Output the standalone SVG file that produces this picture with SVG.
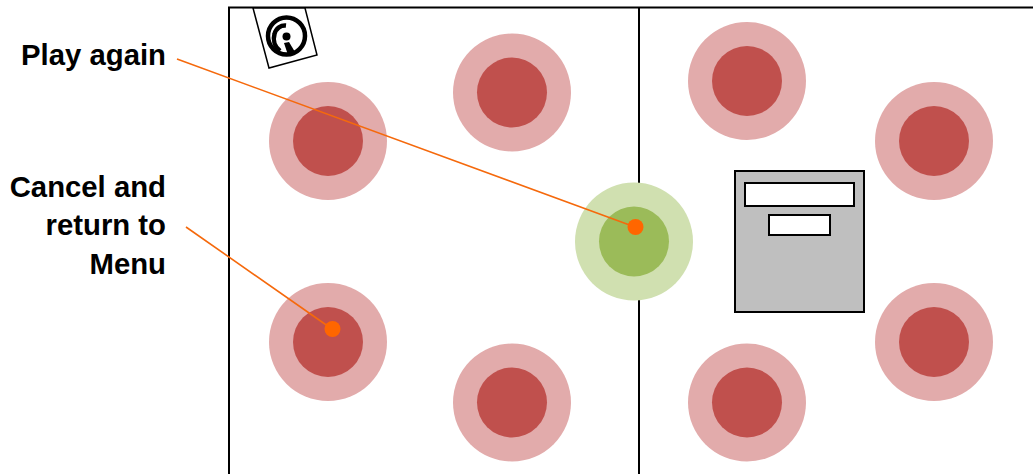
<svg xmlns="http://www.w3.org/2000/svg" width="1033" height="474" viewBox="0 0 1033 474">
<style>
.o{fill:#e2abab}.i{fill:#c0504d}
.go{fill:#d0e0b0}.gi{fill:#9bbb59}
.f{fill:none;stroke:#000;stroke-width:2}
.l{fill:none;stroke:#f5690c;stroke-width:1.6}
.d{fill:#ff6600}
text{font-family:"Liberation Sans",Arial,sans-serif;font-weight:700;font-size:29.3px;text-anchor:end;fill:#000}
</style>
<rect width="1033" height="474" fill="#fff"/>
<g id="frame"><path class="f" d="M229 474V7.500H1033M639 7.500V474"/></g>
<g id="logo"><path d="M253 8H305L317 55L269 68Z" fill="#fff" stroke="#000" stroke-width="1.500"/>
<circle cx="286.500" cy="36" r="18.500" fill="#fff" stroke="#000" stroke-width="4.500"/>
<path d="M280 51C274 46 273 39 274.500 34C276 28 281 25 286 25.500" fill="none" stroke="#000" stroke-width="4.500"/>
<circle cx="286.500" cy="36.500" r="4" fill="#000"/>
<path d="M284 43L289 42L295 52L288 55Z" fill="#000"/></g>
<g id="n1"><circle class="o" cx="328" cy="141" r="59"/><circle class="i" cx="328" cy="141" r="35"/></g>
<g id="n2"><circle class="o" cx="512" cy="92.500" r="59"/><circle class="i" cx="512" cy="92.500" r="35"/></g>
<g id="n3"><circle class="o" cx="747" cy="81" r="59"/><circle class="i" cx="747" cy="81" r="35"/></g>
<g id="n4"><circle class="o" cx="934" cy="141" r="59"/><circle class="i" cx="934" cy="141" r="35"/></g>
<g id="n5"><circle class="o" cx="328" cy="342" r="59"/><circle class="i" cx="328" cy="342" r="35"/></g>
<g id="n6"><circle class="o" cx="512" cy="402.500" r="59"/><circle class="i" cx="512" cy="402.500" r="35"/></g>
<g id="n7"><circle class="o" cx="747" cy="402.500" r="59"/><circle class="i" cx="747" cy="402.500" r="35"/></g>
<g id="n8"><circle class="o" cx="934" cy="342" r="59"/><circle class="i" cx="934" cy="342" r="35"/></g>
<g id="play"><circle class="go" cx="634" cy="241.500" r="59"/><circle class="gi" cx="634" cy="241.500" r="35"/></g>
<g id="panel"><rect x="735" y="171" width="129" height="141" fill="#bfbfbf" stroke="#000" stroke-width="2"/>
<rect x="745" y="183" width="109" height="23" fill="#fff" stroke="#000" stroke-width="2"/>
<rect x="769" y="215" width="61" height="20" fill="#fff" stroke="#000" stroke-width="2"/></g>
<g id="connectors"><path class="l" d="M177 59L635 227M186 227L332 329"/><circle class="d" cx="635.500" cy="227" r="8"/><circle class="d" cx="332.500" cy="329" r="8"/></g>
<g id="labels"><text x="166" y="65">Play again</text><text x="166" y="197">Cancel and</text><text x="166" y="235">return to</text><text x="166" y="274">Menu</text></g>
</svg>
